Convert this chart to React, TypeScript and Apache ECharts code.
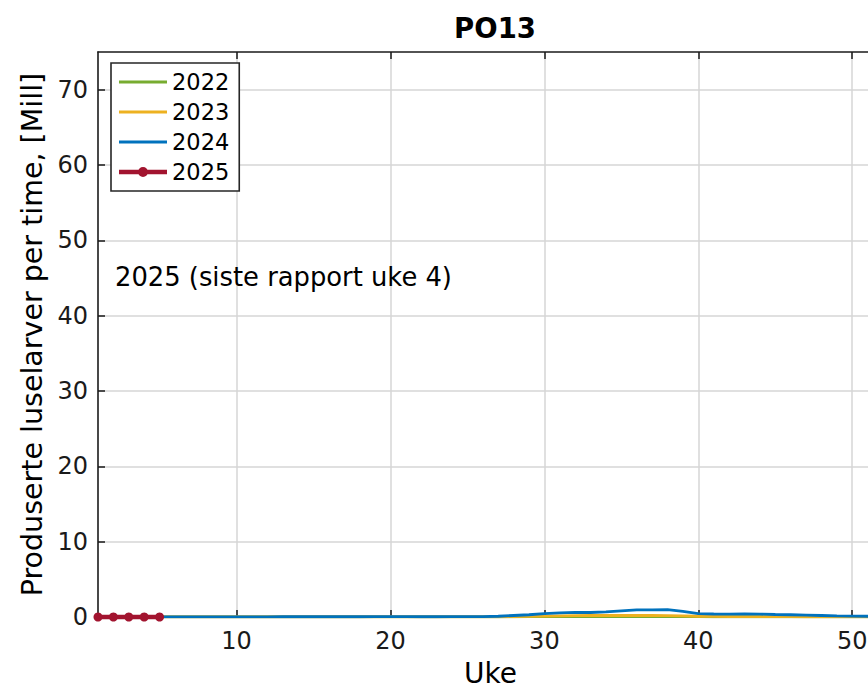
import React, { useEffect, useRef } from "react";
import * as echarts from "echarts";

const weeks: number[] = Array.from({ length: 52 }, (_, i) => i + 1);
const xTicks = [10, 20, 30, 40, 50];
const yTicks = [0, 10, 20, 30, 40, 50, 60, 70];

const v2022 = [
  0.02, 0.02, 0.02, 0.02, 0.02, 0.02, 0.02, 0.02, 0.02, 0.02,
  0.02, 0.02, 0.02, 0.02, 0.02, 0.02, 0.02, 0.02, 0.02, 0.02,
  0.02, 0.02, 0.02, 0.02, 0.02, 0.02, 0.02, 0.03, 0.04, 0.05,
  0.05, 0.06, 0.06, 0.06, 0.06, 0.06, 0.06, 0.05, 0.05, 0.04,
  0.03, 0.03, 0.03, 0.03, 0.02, 0.02, 0.02, 0.02, 0.02, 0.02,
  0.02, 0.02,
];
const v2023 = [
  0.02, 0.02, 0.02, 0.02, 0.02, 0.02, 0.02, 0.02, 0.02, 0.02,
  0.02, 0.02, 0.02, 0.02, 0.02, 0.02, 0.02, 0.02, 0.02, 0.02,
  0.02, 0.02, 0.02, 0.02, 0.02, 0.02, 0.03, 0.05, 0.08, 0.12,
  0.15, 0.18, 0.2, 0.2, 0.2, 0.2, 0.2, 0.18, 0.15, 0.1,
  0.08, 0.06, 0.05, 0.05, 0.04, 0.04, 0.03, 0.03, 0.03, 0.03,
  0.03, 0.03,
];
const v2024 = [
  0.02, 0.02, 0.02, 0.02, 0.02, 0.02, 0.02, 0.02, 0.02, 0.02,
  0.02, 0.02, 0.03, 0.03, 0.04, 0.03, 0.03, 0.03, 0.04, 0.04,
  0.04, 0.03, 0.03, 0.04, 0.05, 0.05, 0.1, 0.2, 0.3, 0.45,
  0.55, 0.62, 0.6, 0.68, 0.82, 0.95, 0.95, 0.98, 0.75, 0.45,
  0.4, 0.38, 0.4, 0.38, 0.33, 0.3, 0.25, 0.2, 0.15, 0.12,
  0.1, 0.08,
];
const weeks2025 = [1, 2, 3, 4, 5];
const v2025 = [0, 0, 0, 0, 0];

const FONT = "DejaVu Sans";
const LINE_ICON = "path://M0,5.5 L48,5.5 L48,8.5 L0,8.5 Z M0,0 L0,0 M0,14 L0,14";
const MARK_ICON =
  "path://M0,4.8 L48,4.8 L48,9.2 L0,9.2 Z M19,7 A5,5 0 1,1 29,7 A5,5 0 1,1 19,7 Z M0,0 L0,0 M0,14 L0,14";

export default function App() {
  const ref = useRef<HTMLDivElement>(null);
  useEffect(() => {
    if (!ref.current) return;
    const chart = echarts.init(ref.current, null, { renderer: "svg" });
    const pair = (xs: number[], ys: number[]) => xs.map((x, i) => [x, ys[i]]);
    const axisLine = { show: true, onZero: false, lineStyle: { color: "#1a1a1a", width: 1.6 } };
    const tick = { show: true, inside: true, length: 7, lineStyle: { color: "#1a1a1a", width: 1.5 } };
    const gridLine = { show: true, lineStyle: { color: "#d6d6d6", width: 1.5 } };
    chart.setOption({
      animation: false,
      backgroundColor: "#ffffff",
      textStyle: { fontFamily: FONT },
      title: {
        text: "PO13",
        left: 490,
        top: 9,
        textAlign: "center",
        textStyle: { fontFamily: FONT, fontSize: 27.5, fontWeight: "bold", color: "#000" },
      },
      grid: { left: 98, top: 52, right: -15, bottom: 72, containLabel: false, outerBoundsMode: "none" },
      legend: {
        orient: "vertical",
        left: 111,
        top: 63,
        backgroundColor: "#ffffff",
        borderColor: "#262626",
        borderWidth: 1.6,
        borderRadius: 0,
        padding: [6, 10, 6, 8],
        itemGap: 4,
        itemWidth: 48,
        itemHeight: 14,
        textStyle: { fontFamily: FONT, fontSize: 22.5, color: "#000", lineHeight: 26 },
        data: [
          { name: "2022", icon: LINE_ICON },
          { name: "2023", icon: LINE_ICON },
          { name: "2024", icon: LINE_ICON },
          { name: "2025", icon: MARK_ICON },
        ],
      },
      xAxis: [
        {
          type: "value",
          min: 1,
          max: 52,
          position: "bottom",
          name: "Uke",
          nameLocation: "middle",
          nameGap: 42,
          nameTextStyle: { fontFamily: FONT, fontSize: 28, color: "#000", lineHeight: 28 },
          axisLine,
          axisTick: { ...tick, customValues: xTicks },
          axisLabel: { show: true, customValues: xTicks, fontFamily: FONT, fontSize: 24, color: "#1a1a1a", margin: 12 },
          splitLine: gridLine,
        },
        {
          type: "value",
          min: 1,
          max: 52,
          position: "top",
          axisLine,
          axisTick: { ...tick, customValues: xTicks },
          axisLabel: { show: false },
          splitLine: { show: false },
        },
      ],
      yAxis: [
        {
          type: "value",
          min: 0,
          max: 75,
          position: "left",
          name: "Produserte luselarver per time, [Mill]",
          nameLocation: "middle",
          nameGap: 50,
          nameTextStyle: { fontFamily: FONT, fontSize: 28.5, color: "#000" },
          axisLine,
          axisTick: { ...tick, customValues: yTicks },
          axisLabel: { show: true, customValues: yTicks, fontFamily: FONT, fontSize: 24, color: "#1a1a1a", margin: 10 },
          splitLine: gridLine,
        },
        {
          type: "value",
          min: 0,
          max: 75,
          position: "right",
          axisLine,
          axisTick: { ...tick, customValues: yTicks },
          axisLabel: { show: false },
          splitLine: { show: false },
        },
      ],
      graphic: [
        {
          type: "text",
          left: 115,
          top: 264,
          style: { text: "2025 (siste rapport uke 4)", fontFamily: FONT, fontSize: 25.8, fill: "#000" },
          z: 10,
        },
      ],
      series: [
        {
          name: "2022",
          type: "line",
          data: pair(weeks, v2022),
          symbol: "none",
          lineStyle: { color: "#77AC30", width: 2.8 },
          itemStyle: { color: "#77AC30" },
        },
        {
          name: "2023",
          type: "line",
          data: pair(weeks, v2023),
          symbol: "none",
          lineStyle: { color: "#EDB120", width: 2.8 },
          itemStyle: { color: "#EDB120" },
        },
        {
          name: "2024",
          type: "line",
          data: pair(weeks, v2024),
          symbol: "none",
          lineStyle: { color: "#0072BD", width: 2.8 },
          itemStyle: { color: "#0072BD" },
        },
        {
          name: "2025",
          type: "line",
          data: pair(weeks2025, v2025),
          symbol: "circle",
          symbolSize: 9,
          clip: false,
          lineStyle: { color: "#A2142F", width: 4.5 },
          itemStyle: { color: "#A2142F" },
          z: 5,
        },
      ],
    });
    return () => chart.dispose();
  }, []);
  return <div ref={ref} style={{ width: 868, height: 689, position: "absolute", left: 0, top: 0 }} />;
}
